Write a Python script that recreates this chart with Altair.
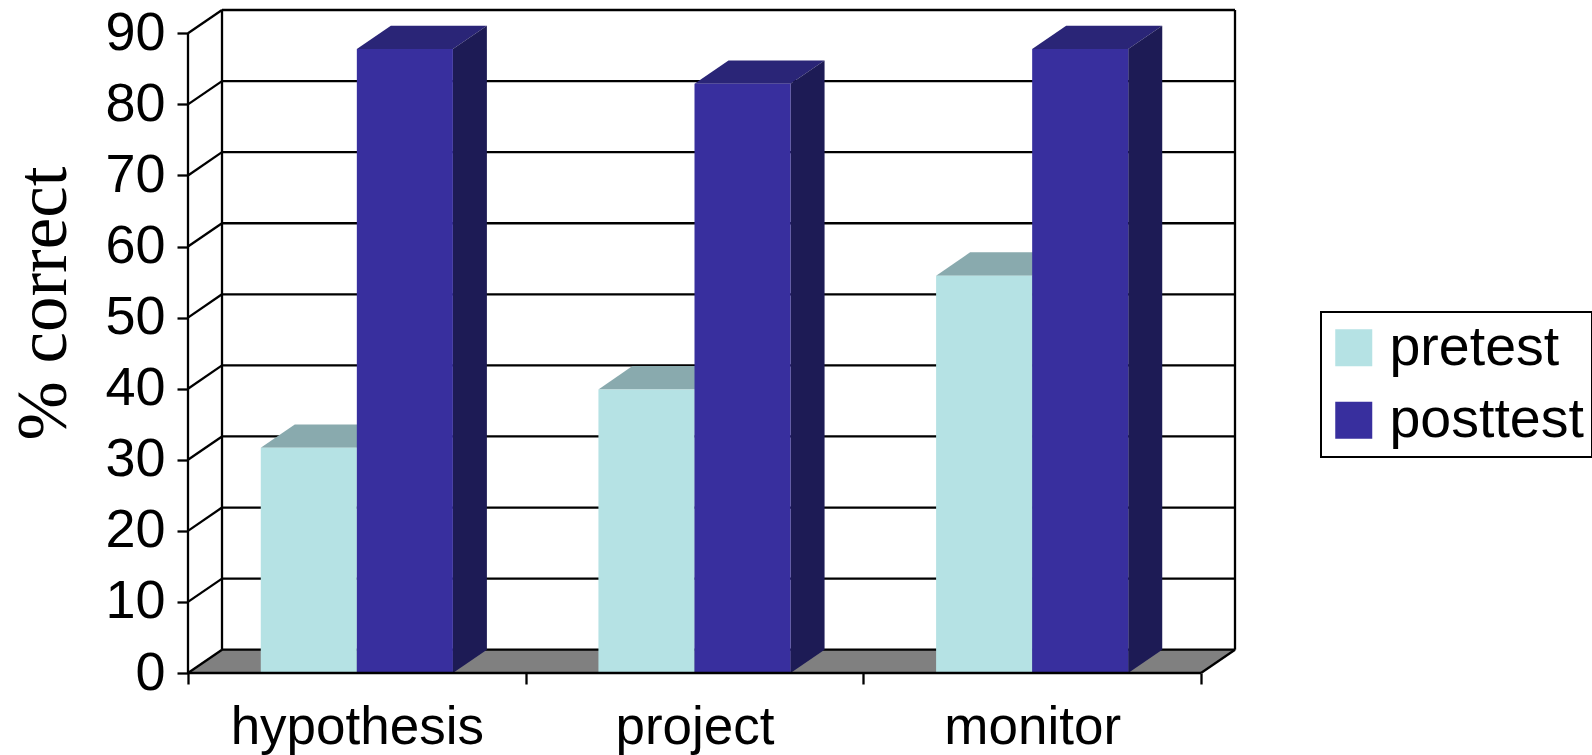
import altair as alt
import pandas as pd

# Chart values
categories = ["hypothesis", "project", "monitor"]
series_names = ["pretest", "posttest"]
pretest = [31.7, 39.9, 55.9]
posttest = [87.8, 82.9, 87.8]
y_ticks = [0, 10, 20, 30, 40, 50, 60, 70, 80, 90]

# Oblique projection of the box: depth expressed in axis units
DEPTH_X = 0.1007
DEPTH_Y = 3.28
BAR_W = 0.2845
BAR_START = 0.2155
N = len(categories)

X_SCALE = alt.Scale(domain=[0, N + DEPTH_X], nice=False, zero=False)
Y_SCALE = alt.Scale(domain=[0, 90 + DEPTH_Y], nice=False, zero=False)

FRONT = ["#B5E2E4", "#382F9E"]
TOP = ["#89AAAE", "#2A2577"]
SIDE = ["#89AAAE", "#1D1B55"]
FLOOR = "#808080"
LINE = "#000000"
LINE_W = 2.3

label_lookup = "{" + ",".join(f"'{i + 0.5}':'{c}'" for i, c in enumerate(categories)) + "}"
x_axis = alt.Axis(
    values=[v / 2 for v in range(0, 2 * N + 1)],
    title=None,
    grid=False,
    domain=False,
    labelExpr=f"{label_lookup}[datum.value] || ''",
    labelFont="Liberation Sans",
    labelFontSize=53,
    labelColor="#000000",
    labelPadding=17,
    labelLimit=500,
    labelOverlap=False,
    labelFlush=False,
    labelBound=False,
    tickColor=LINE,
    tickWidth=LINE_W,
    tickSize=11,
    tickOpacity={"condition": {"test": "datum.value % 1 != 0", "value": 0}, "value": 1},
)
y_axis = alt.Axis(
    values=y_ticks,
    title="% correct",
    titleFont="Liberation Serif",
    titleFontSize=71,
    titleFontWeight="normal",
    titleColor="#000000",
    titleX=-123,
    titleY=293,
    titleAlign="center",
    titleBaseline="alphabetic",
    titleAngle=270,
    grid=False,
    domain=False,
    labelFont="Liberation Sans",
    labelFontSize=54,
    labelColor="#000000",
    labelPadding=12,
    labelOverlap=False,
    labelFlush=False,
    labelBound=False,
    tickColor=LINE,
    tickWidth=LINE_W,
    tickSize=11,
)


def X(field):
    return alt.X(field, type="quantitative", scale=X_SCALE, axis=x_axis, stack=None)


def Y(field):
    return alt.Y(field, type="quantitative", scale=Y_SCALE, axis=y_axis, stack=None)


def line_layer(segments):
    frame = pd.DataFrame(segments, columns=["x", "y", "x2", "y2"])
    return (
        alt.Chart(frame)
        .mark_rule(color=LINE, strokeWidth=LINE_W)
        .encode(x=X("x"), y=Y("y"), x2="x2", y2="y2")
    )


layers = []

# Floor of the box
floor = pd.DataFrame({"y": [0, DEPTH_Y], "x0": [0, DEPTH_X], "x1": [N, N + DEPTH_X]})
layers.append(
    alt.Chart(floor)
    .mark_area(orient="horizontal", color=FLOOR, opacity=1)
    .encode(y=Y("y"), x=X("x0"), x2="x1")
)

# Back wall: gridlines, the slanted links to the front axis, the two uprights
segments = []
for v in y_ticks:
    segments.append((DEPTH_X, v + DEPTH_Y, N + DEPTH_X, v + DEPTH_Y))
    segments.append((0, v, DEPTH_X, v + DEPTH_Y))
segments.append((DEPTH_X, DEPTH_Y, DEPTH_X, 90 + DEPTH_Y))
segments.append((N + DEPTH_X, DEPTH_Y, N + DEPTH_X, 90 + DEPTH_Y))
segments.append((N, 0, N + DEPTH_X, DEPTH_Y))
layers.append(line_layer(segments))

# Bars: for each series a top face, a side face and a front face
for s, (name, values) in enumerate(zip(series_names, [pretest, posttest])):
    front_rows, top_rows, side_rows = [], [], []
    for i, (cat, val) in enumerate(zip(categories, values)):
        left = i + BAR_START + s * BAR_W
        right = left + BAR_W
        front_rows.append(dict(series=name, category=cat, left=left, right=right, value=val, base=0))
        top_rows += [
            dict(category=cat, y=val, a=left, b=right),
            dict(category=cat, y=val + DEPTH_Y, a=left + DEPTH_X, b=right + DEPTH_X),
        ]
        side_rows += [
            dict(category=cat, x=right, low=0, high=val),
            dict(category=cat, x=right + DEPTH_X, low=DEPTH_Y, high=val + DEPTH_Y),
        ]
    layers.append(
        alt.Chart(pd.DataFrame(top_rows))
        .mark_area(orient="horizontal", color=TOP[s], opacity=1)
        .encode(y=Y("y"), x=X("a"), x2="b", detail="category:N")
    )
    layers.append(
        alt.Chart(pd.DataFrame(side_rows))
        .mark_area(orient="vertical", color=SIDE[s], opacity=1)
        .encode(x=X("x"), y=Y("high"), y2="low", detail="category:N")
    )
    layers.append(
        alt.Chart(pd.DataFrame(front_rows))
        .mark_rect(opacity=1)
        .encode(
            x=X("left"),
            x2="right",
            y=Y("value"),
            y2="base",
            color=alt.Color(
                "series:N",
                scale=alt.Scale(domain=series_names, range=FRONT),
                legend=alt.Legend(
                    title=None,
                    orient="none",
                    legendX=1133,
                    legendY=302,
                    symbolType="square",
                    symbolSize=1369,
                    symbolStrokeWidth=0,
                    symbolOffset=-3,
                    labelFont="Liberation Sans",
                    labelFontSize=55.5,
                    labelColor="#000000",
                    labelOffset=8,
                    labelLimit=400,
                    rowPadding=15.5,
                    padding=8,
                    fillColor="#ffffff",
                    strokeColor="#000000",
                ),
            ),
        )
    )

# Front axis lines stop at the last tick and sit on top of the bars
layers.append(line_layer([(0, 0, N, 0), (0, 0, 0, 90)]))

chart = (
    alt.layer(*layers)
    .properties(
        width=1047,
        height=663,
        padding={"left": 188, "top": 10, "right": 357, "bottom": 82},
        autosize=alt.AutoSizeParams(type="none"),
        background="#ffffff",
    )
    .configure_view(stroke=None)
    .configure_legend(strokeWidth=2)
)

chart.save("out.html", embed_options={"renderer": "svg", "actions": False})
